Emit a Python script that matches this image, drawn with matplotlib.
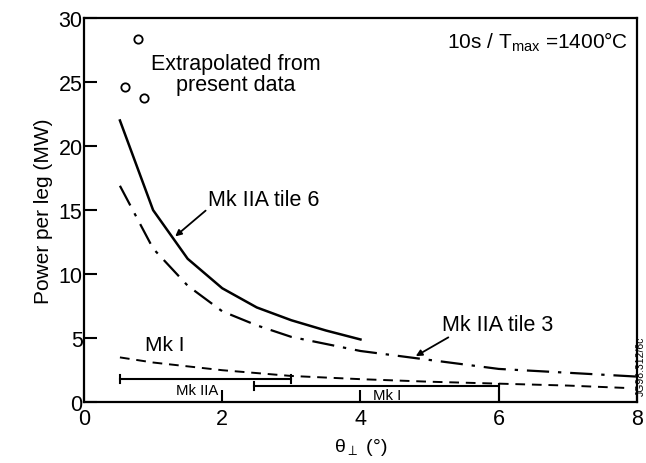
import matplotlib
matplotlib.use("Agg")
import matplotlib.pyplot as plt

# Mk IIA tile 6 (solid)
TILE6_X = [0.52, 1.0, 1.5, 2.0, 2.5, 3.0, 3.5, 4.0]
TILE6_Y = [22.0, 15.0, 11.2, 8.9, 7.4, 6.4, 5.6, 4.9]
# Mk IIA tile 3 (dash-dot)
TILE3_X = [0.52, 1.0, 1.5, 2.0, 2.5, 3.0, 4.0, 5.0, 6.0, 7.0, 8.0]
TILE3_Y = [16.9, 12.0, 9.1, 7.1, 6.0, 5.1, 4.0, 3.3, 2.6, 2.3, 2.0]
# Mk I (dashed)
MK1_X = [0.52, 1.0, 2.0, 3.0, 4.0, 5.0, 6.0, 7.0, 7.9]
MK1_Y = [3.5, 3.1, 2.5, 2.05, 1.8, 1.6, 1.45, 1.3, 1.1]
# extrapolated points
EXT_X = [0.59, 0.78, 0.87]
EXT_Y = [24.6, 28.4, 23.75]
# operating ranges
MK2A_RANGE = (0.52, 3.0, 1.8)
MK1_RANGE = (2.46, 6.0, 1.25)

plt.rcParams.update({
    "font.family": ["Liberation Sans", "DejaVu Sans"],
    "text.color": "black",
})

fig = plt.figure(figsize=(6.46, 4.64), dpi=100)
ax = fig.add_axes([0.130, 0.131, 0.856, 0.828])

ax.plot(TILE6_X, TILE6_Y, color="black", lw=1.8)
ax.plot(TILE3_X, TILE3_Y, color="black", lw=1.6, dashes=(10, 4, 1.5, 4))
ax.plot(MK1_X, MK1_Y, color="black", lw=1.4, dashes=(5, 3.5))
ax.plot(EXT_X, EXT_Y, "o", ms=6, mfc="white", mec="black", mew=1.3)

# range bars
x0, x1, y = MK2A_RANGE
ax.plot([x0, x1], [y, y], color="black", lw=1.5)
ax.plot([x0, x0], [y - 0.3, y + 0.3], color="black", lw=1.5)
ax.plot([x1, x1], [y - 0.3, y + 0.3], color="black", lw=1.5)
x0, x1, y = MK1_RANGE
ax.plot([x0, x1], [y, y], color="black", lw=1.5)
ax.plot([x0, x0], [y - 0.3, y + 0.3], color="black", lw=1.5)
ax.plot([x1, x1], [0, y + 0.2], color="black", lw=1.5)
ax.text(1.64, 0.95, "Mk IIA", fontsize=10.7, ha="center", va="center")
ax.text(4.38, 0.55, "Mk I", fontsize=10.7, ha="center", va="center")

ax.text(2.2, 25.6, "Extrapolated from\npresent data", fontsize=15.5,
        ha="center", va="center", linespacing=1.0)
ax.text(7.88, 28.2, r"10s / T$_{\mathregular{max}}$ =1400°C", fontsize=15,
        ha="right", va="center")
ax.text(0.88, 4.5, "Mk I", fontsize=15, ha="left", va="center")
ax.annotate("Mk IIA tile 6", xy=(1.32, 12.95), xytext=(1.8, 15.8),
            fontsize=15.5, ha="left", va="center",
            arrowprops=dict(arrowstyle="-|>", color="black", lw=1.3,
                            mutation_scale=9, shrinkA=0, shrinkB=0,
                            relpos=(0.0, 0.1)))
ax.annotate("Mk IIA tile 3", xy=(4.8, 3.6), xytext=(5.18, 6.1),
            fontsize=15.5, ha="left", va="center",
            arrowprops=dict(arrowstyle="-|>", color="black", lw=1.3,
                            mutation_scale=9, shrinkA=0, shrinkB=0,
                            relpos=(0.1, 0.0)))

fig.text(0.992, 0.21, "JG98.312/6c", rotation=90, fontsize=7.5,
         ha="center", va="center")

ax.set_xlim(0, 8)
ax.set_ylim(0, 30)
ax.set_xticks([0, 2, 4, 6, 8])
ax.set_yticks([0, 5, 10, 15, 20, 25, 30])
ax.tick_params(direction="in", length=9, width=1.5, labelsize=15.5)
ax.tick_params(axis="x", pad=4)
ax.tick_params(axis="y", pad=1)
for s in ax.spines.values():
    s.set_linewidth(1.6)
ax.set_xlabel(r"θ$_{\perp}$ (°)", fontsize=14, labelpad=5)
ax.set_ylabel("Power per leg (MW)", fontsize=15, labelpad=4)

fig.savefig("out.png", dpi=100)
